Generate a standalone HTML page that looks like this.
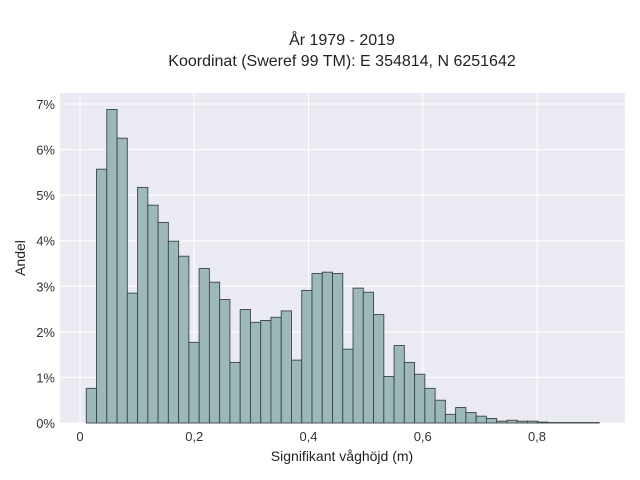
<!DOCTYPE html>
<html><head><meta charset="utf-8"><style>
body{margin:0;background:#fff;}
svg{display:block;font-family:"Liberation Sans",sans-serif;}
</style></head><body>
<svg id="chart" width="640" height="480">
<rect x="0" y="0" width="640" height="480" fill="#fff"/>
<text x="342" y="45" text-anchor="middle" font-size="16" fill="#222">År 1979 - 2019</text>
<text x="342" y="66" text-anchor="middle" font-size="16" fill="#222">Koordinat (Sweref 99 TM): E 354814, N 6251642</text>
<rect x="60" y="93" width="565" height="330" fill="#eaeaf2"/>
<g id="grid"></g>
<g id="bars"></g>
<g id="ticks"></g>
<text x="342" y="461" text-anchor="middle" font-size="14" fill="#222">Signifikant våghöjd (m)</text>
<text transform="translate(25,258) rotate(-90)" text-anchor="middle" font-size="14" fill="#222">Andel</text>
</svg>
<script>
const binStart = 0.011;
const binWidth = 0.01796;
const heights = [0.76,5.57,6.88,6.25,2.85,5.17,4.78,4.40,3.99,3.66,1.77,3.39,3.09,2.71,1.33,2.49,2.21,2.25,2.32,2.46,1.38,2.91,3.28,3.31,3.28,1.62,2.96,2.87,2.38,1.02,1.70,1.33,1.07,0.76,0.50,0.19,0.34,0.23,0.15,0.10,0.04,0.06,0.04,0.04,0.02,0.01,0.01,0.01,0.01,0.01];
const xTicks = [0,0.2,0.4,0.6,0.8];
const xTickLabels = ["0","0,2","0,4","0,6","0,8"];
const yTicks = [0,1,2,3,4,5,6,7];
const yTickLabels = ["0%","1%","2%","3%","4%","5%","6%","7%"];
const NS="http://www.w3.org/2000/svg";
function sx(v){return 80+v*571.25;}
function sy(p){return 423-p*45.57;}
const grid=document.getElementById('grid'),bars=document.getElementById('bars'),ticks=document.getElementById('ticks');
function mk(tag,attrs,parent){const e=document.createElementNS(NS,tag);for(const k in attrs)e.setAttribute(k,attrs[k]);parent.appendChild(e);return e;}
xTicks.forEach((v,i)=>{
  const l=mk('line',{x1:sx(v),x2:sx(v),y1:93,y2:423,stroke:'#fff','stroke-width':1},grid);
  
  
  const t=mk('text',{x:sx(v),y:441,'text-anchor':'middle','font-size':13,fill:'#333'},ticks);
  t.textContent=xTickLabels[i];
  
  
});
yTicks.forEach((v,i)=>{
  const l=mk('line',{x1:60,x2:625,y1:sy(v),y2:sy(v),stroke:'#fff','stroke-width':1},grid);
  
  
  const t=mk('text',{x:55,y:sy(v)+5,'text-anchor':'end','font-size':13,fill:'#333'},ticks);
  t.textContent=yTickLabels[i];
  
  
});
heights.forEach((h,i)=>{
  const x0=sx(binStart+i*binWidth),x1=sx(binStart+(i+1)*binWidth);
  const r=mk('rect',{x:x0,y:sy(h),width:x1-x0,height:sy(0)-sy(h),fill:'#9db8b8',stroke:'#3c4444','stroke-width':0.9},bars);
  
  
});
</script>
</body></html>
